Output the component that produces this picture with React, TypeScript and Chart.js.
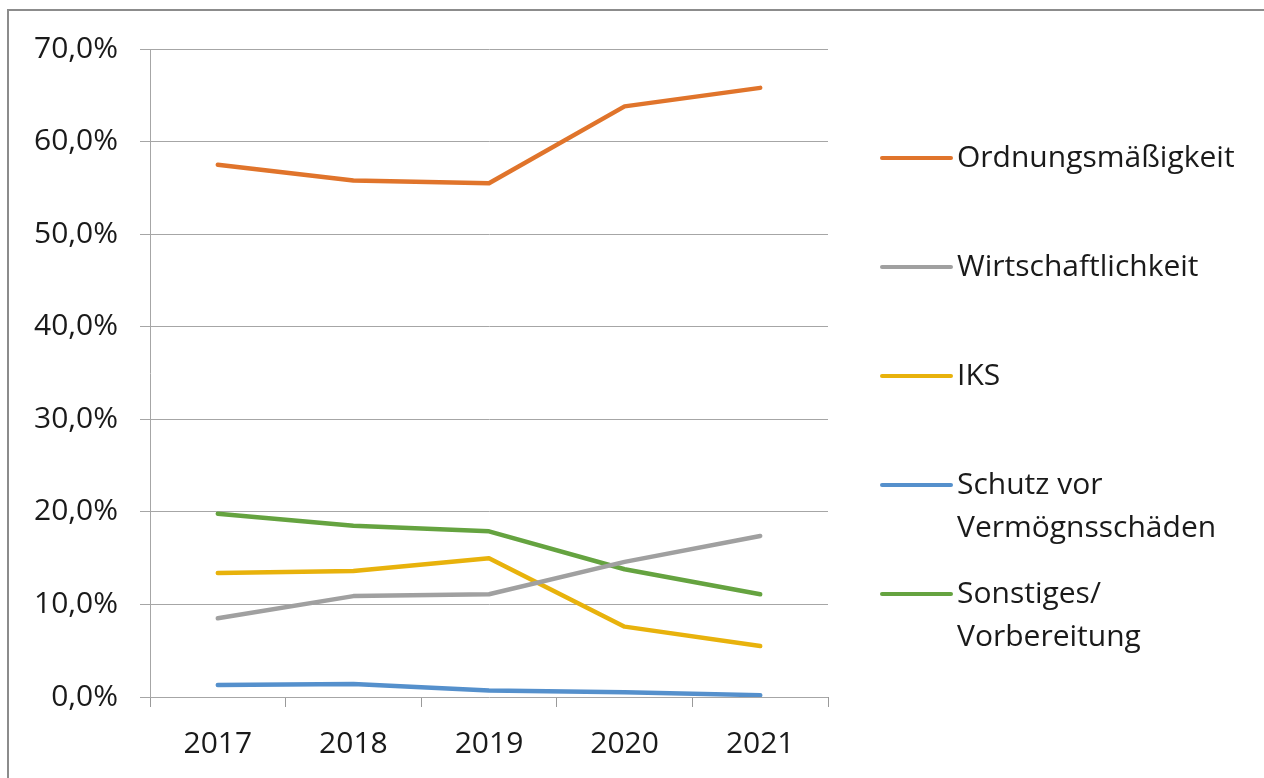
import React, { useEffect, useRef } from "react";
import { Chart, registerables } from "chart.js";

Chart.register(...registerables);

const years = ["2017", "2018", "2019", "2020", "2021"];
const seriesNames = [
  ["Ordnungsmäßigkeit"],
  ["Wirtschaftlichkeit"],
  ["IKS"],
  ["Schutz vor", "Vermögnsschäden"],
  ["Sonstiges/", "Vorbereitung"],
];
const ordnung = [57.5, 55.8, 55.5, 63.8, 65.8];
const wirtschaft = [8.5, 10.9, 11.1, 14.6, 17.4];
const iks = [13.4, 13.6, 15.0, 7.6, 5.5];
const schutz = [1.3, 1.4, 0.7, 0.5, 0.2];
const sonstiges = [19.8, 18.5, 17.9, 13.8, 11.1];
const seriesValues = [ordnung, wirtschaft, iks, schutz, sonstiges];
const colors = ["#E0742B", "#A0A0A0", "#E8B20C", "#5590CC", "#65A340"];

const FONT = "'Open Sans', sans-serif";
const FS = 30;

const legendPlugin = {
  id: "customLegend",
  afterDraw(chart: any) {
    const ctx = chart.ctx;
    const lineX0 = 882;
    const lineX1 = 951;
    const textX = 957;
    const baseY = 158;
    const step = 109;
    const lineH = 43;
    ctx.save();
    ctx.font = `${FS}px ${FONT}`;
    ctx.textBaseline = "middle";
    ctx.textAlign = "left";
    chart.data.datasets.forEach((ds: any, i: number) => {
      const y = baseY + i * step;
      ctx.strokeStyle = ds.borderColor;
      ctx.lineWidth = 4;
      ctx.lineCap = "round";
      ctx.beginPath();
      ctx.moveTo(lineX0, y);
      ctx.lineTo(lineX1, y);
      ctx.stroke();
      ctx.fillStyle = "#1a1a1a";
      const lines: string[] = ds.labelLines;
      lines.forEach((t, j) => ctx.fillText(t, textX, y + j * lineH));
    });
    ctx.restore();
  },
};

export default function App() {
  const ref = useRef<HTMLCanvasElement>(null);
  useEffect(() => {
    if (!ref.current) return;
    const chart = new Chart(ref.current, {
      type: "line",
      data: {
        labels: years,
        datasets: seriesValues.map((vals, i) => ({
          label: seriesNames[i].join(" "),
          labelLines: seriesNames[i],
          data: vals,
          borderColor: colors[i],
          backgroundColor: colors[i],
          borderWidth: 4.5,
          pointRadius: 0,
          tension: 0,
          borderJoinStyle: "round",
          borderCapStyle: "round",
        })) as any,
      },
      options: {
        animation: false,
        responsive: false,
        maintainAspectRatio: false,
        layout: { padding: { top: 49, right: 436, bottom: 0, left: 0 } },
        plugins: {
          legend: { display: false },
          tooltip: { enabled: false },
        },
        scales: {
          x: {
            offset: true,
            grid: {
              offset: true,
              drawOnChartArea: false,
              drawTicks: true,
              tickLength: 10,
              color: "#9a9a9a",
              lineWidth: 1,
            },
            border: { display: false },
            ticks: {
              color: "#1a1a1a",
              font: { family: FONT, size: FS },
              padding: 19,
              maxRotation: 0,
            },
            afterFit(scale: any) {
              scale.height = 81;
            },
          },
          y: {
            min: 0,
            max: 70,
            grid: {
              color: "#a6a6a6",
              lineWidth: 1,
              tickLength: 10,
            },
            border: { display: true, color: "#a6a6a6", width: 1 },
            ticks: {
              stepSize: 10,
              color: "#1a1a1a",
              font: { family: FONT, size: FS },
              padding: 22,
              callback: (v: any) => Number(v).toFixed(1).replace(".", ",") + "%",
            },
            afterFit(scale: any) {
              scale.width = 150;
            },
          },
        },
      },
      plugins: [legendPlugin],
    });
    return () => chart.destroy();
  }, []);

  return (
    <div style={{ position: "fixed", left: 0, top: 0, width: 1264, height: 778, background: "#fff" }}>
      <canvas ref={ref} width={1264} height={778} style={{ position: "absolute", left: 0, top: 0 }} />
      <div
        style={{
          position: "absolute",
          left: 7,
          top: 9,
          right: 0,
          bottom: 0,
          borderTop: "2px solid #8c8c8c",
          borderLeft: "2px solid #8c8c8c",
          pointerEvents: "none",
        }}
      />
    </div>
  );
}
